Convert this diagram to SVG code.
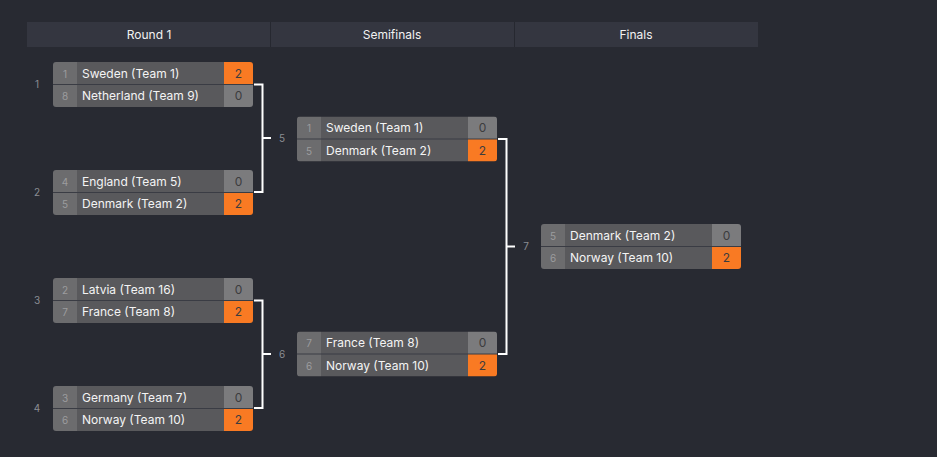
<svg xmlns="http://www.w3.org/2000/svg" width="937" height="457" viewBox="0 0 937 457">
<style>
text{font-family:Inter,"Liberation Sans",sans-serif;}
.hd{fill:#343640;}
.ht{fill:#f2f2f2;font-size:12px;text-anchor:middle;}
.seed{fill:#6c6c6e;}
.name{fill:#59595c;}
.sc{fill:#7b7b7d;}
.win{fill:#f97a23;}
.st{fill:#9c9c9e;font-size:10px;text-anchor:middle;}
.nt{fill:#f4f4f4;font-size:12px;}
.scr{fill:#3c3c3e;font-size:12px;text-anchor:middle;}
.lbl{fill:#8b8d93;font-size:10px;text-anchor:middle;}
.sep{stroke:#3a3c44;stroke-width:1;}
.con{fill:none;stroke:#ffffff;stroke-width:2;}
</style>
<defs>
<clipPath id="cr"><rect x="0" y="0" width="200" height="45" rx="3"/></clipPath>
</defs>
<rect width="937" height="457" fill="#282a32"/>
<g id="header">
<rect class="hd" x="27" y="22" width="731" height="25"/>
<line x1="270.5" y1="22" x2="270.5" y2="47" stroke="#262830"/>
<line x1="514.5" y1="22" x2="514.5" y2="47" stroke="#262830"/>
<text class="ht" x="149" y="39">Round 1</text>
<text class="ht" x="392" y="39">Semifinals</text>
<text class="ht" x="636" y="39">Finals</text>
</g>
<g id="connectors">
<path class="con" d="M254 84.5H262.5V192H254M262.5 138H271"/>
<path class="con" d="M254 300.5H262.5V408H254M262.5 354H271"/>
<path class="con" d="M498 139H506.5V354H498M506.5 246.5H515"/>
</g>
<g id="m1" transform="translate(53,62)">
<g clip-path="url(#cr)">
<rect class="seed" width="24" height="45"/><rect class="name" x="24" width="147" height="45"/>
<rect class="win" x="171" width="29" height="22.5"/><rect class="sc" x="171" y="22.5" width="29" height="22.5"/>
<line class="sep" x1="0" y1="22.5" x2="200" y2="22.5"/>
</g>
<text class="st" x="12" y="15.5">1</text><text class="nt" x="29" y="15.5">Sweden (Team 1)</text><text class="scr" x="185.5" y="15.5">2</text>
<text class="st" x="12" y="38">8</text><text class="nt" x="29" y="38">Netherland (Team 9)</text><text class="scr" x="185.5" y="38">0</text>
</g>
<g id="m2" transform="translate(53,170)">
<g clip-path="url(#cr)">
<rect class="seed" width="24" height="45"/><rect class="name" x="24" width="147" height="45"/>
<rect class="sc" x="171" width="29" height="22.5"/><rect class="win" x="171" y="22.5" width="29" height="22.5"/>
<line class="sep" x1="0" y1="22.5" x2="200" y2="22.5"/>
</g>
<text class="st" x="12" y="15.5">4</text><text class="nt" x="29" y="15.5">England (Team 5)</text><text class="scr" x="185.5" y="15.5">0</text>
<text class="st" x="12" y="38">5</text><text class="nt" x="29" y="38">Denmark (Team 2)</text><text class="scr" x="185.5" y="38">2</text>
</g>
<g id="m3" transform="translate(53,278)">
<g clip-path="url(#cr)">
<rect class="seed" width="24" height="45"/><rect class="name" x="24" width="147" height="45"/>
<rect class="sc" x="171" width="29" height="22.5"/><rect class="win" x="171" y="22.5" width="29" height="22.5"/>
<line class="sep" x1="0" y1="22.5" x2="200" y2="22.5"/>
</g>
<text class="st" x="12" y="15.5">2</text><text class="nt" x="29" y="15.5">Latvia (Team 16)</text><text class="scr" x="185.5" y="15.5">0</text>
<text class="st" x="12" y="38">7</text><text class="nt" x="29" y="38">France (Team 8)</text><text class="scr" x="185.5" y="38">2</text>
</g>
<g id="m4" transform="translate(53,386)">
<g clip-path="url(#cr)">
<rect class="seed" width="24" height="45"/><rect class="name" x="24" width="147" height="45"/>
<rect class="sc" x="171" width="29" height="22.5"/><rect class="win" x="171" y="22.5" width="29" height="22.5"/>
<line class="sep" x1="0" y1="22.5" x2="200" y2="22.5"/>
</g>
<text class="st" x="12" y="15.5">3</text><text class="nt" x="29" y="15.5">Germany (Team 7)</text><text class="scr" x="185.5" y="15.5">0</text>
<text class="st" x="12" y="38">6</text><text class="nt" x="29" y="38">Norway (Team 10)</text><text class="scr" x="185.5" y="38">2</text>
</g>
<g id="m5" transform="translate(297,116.5)">
<g clip-path="url(#cr)">
<rect class="seed" width="24" height="45"/><rect class="name" x="24" width="147" height="45"/>
<rect class="sc" x="171" width="29" height="22.5"/><rect class="win" x="171" y="22.5" width="29" height="22.5"/>
<line class="sep" x1="0" y1="22.5" x2="200" y2="22.5"/>
</g>
<text class="st" x="12" y="15.5">1</text><text class="nt" x="29" y="15.5">Sweden (Team 1)</text><text class="scr" x="185.5" y="15.5">0</text>
<text class="st" x="12" y="38">5</text><text class="nt" x="29" y="38">Denmark (Team 2)</text><text class="scr" x="185.5" y="38">2</text>
</g>
<g id="m6" transform="translate(297,331.5)">
<g clip-path="url(#cr)">
<rect class="seed" width="24" height="45"/><rect class="name" x="24" width="147" height="45"/>
<rect class="sc" x="171" width="29" height="22.5"/><rect class="win" x="171" y="22.5" width="29" height="22.5"/>
<line class="sep" x1="0" y1="22.5" x2="200" y2="22.5"/>
</g>
<text class="st" x="12" y="15.5">7</text><text class="nt" x="29" y="15.5">France (Team 8)</text><text class="scr" x="185.5" y="15.5">0</text>
<text class="st" x="12" y="38">6</text><text class="nt" x="29" y="38">Norway (Team 10)</text><text class="scr" x="185.5" y="38">2</text>
</g>
<g id="m7" transform="translate(541,224)">
<g clip-path="url(#cr)">
<rect class="seed" width="24" height="45"/><rect class="name" x="24" width="147" height="45"/>
<rect class="sc" x="171" width="29" height="22.5"/><rect class="win" x="171" y="22.5" width="29" height="22.5"/>
<line class="sep" x1="0" y1="22.5" x2="200" y2="22.5"/>
</g>
<text class="st" x="12" y="15.5">5</text><text class="nt" x="29" y="15.5">Denmark (Team 2)</text><text class="scr" x="185.5" y="15.5">0</text>
<text class="st" x="12" y="38">6</text><text class="nt" x="29" y="38">Norway (Team 10)</text><text class="scr" x="185.5" y="38">2</text>
</g>
<g id="labels">
<text class="lbl" x="37" y="88">1</text>
<text class="lbl" x="37" y="196">2</text>
<text class="lbl" x="37" y="304">3</text>
<text class="lbl" x="37" y="412">4</text>
<text class="lbl" x="282" y="142">5</text>
<text class="lbl" x="282" y="358">6</text>
<text class="lbl" x="526" y="250">7</text>
</g>
</svg>
